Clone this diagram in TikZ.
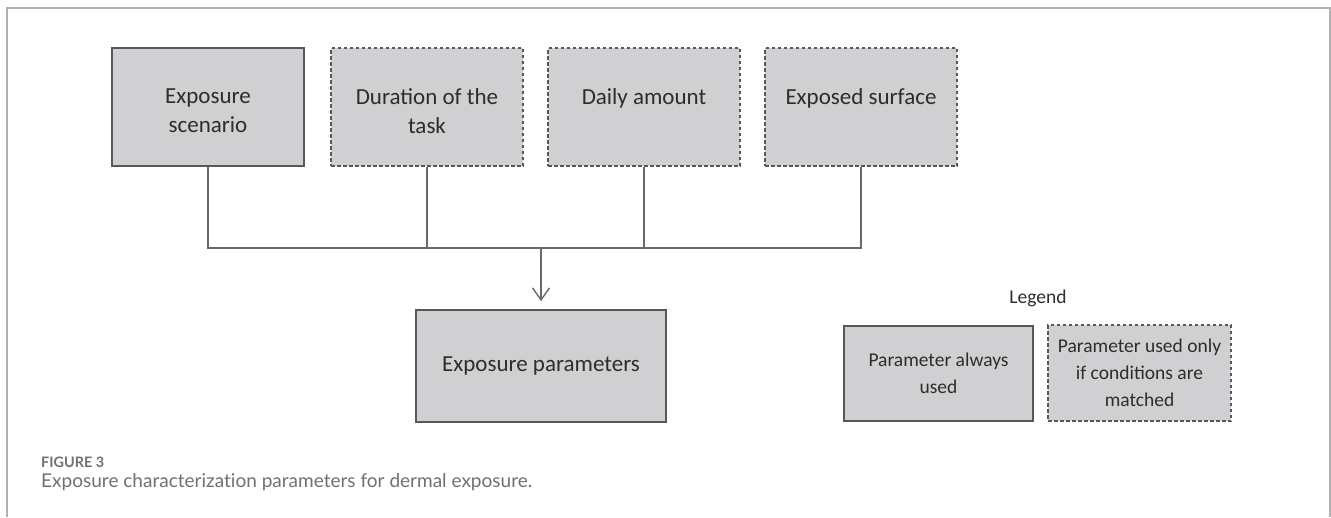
\documentclass[tikz,border=0pt]{standalone}
\usepackage{graphicx}
\usepackage{fontspec}
\setmainfont{Carlito}
\newfontfamily\capfont[Ligatures=NoCommon]{Lato}
\usetikzlibrary{arrows.meta}

\definecolor{boxfill}{RGB}{208,207,210}
\definecolor{boxline}{RGB}{88,88,90}
\definecolor{linkgray}{RGB}{105,105,105}
\definecolor{txtgray}{RGB}{45,45,45}
\definecolor{capgray}{RGB}{112,112,112}
\definecolor{framegray}{RGB}{178,178,178}

% top-aligned text inside the upper boxes
\newcommand{\toptext}[1]{\parbox[c][36pt][t]{184pt}{\centering #1}}

\tikzset{
  always/.style={draw=boxline, line width=1.8pt, fill=boxfill, inner sep=0pt,
    text=txtgray, align=center, font=\fontsize{23}{29}\selectfont},
  optional/.style={always, line width=1.5pt, dash pattern=on 3.5pt off 2.5pt},
  topbox/.style={minimum width=192pt, minimum height=118pt},
  legbox/.style={font=\fontsize{19.5}{27}\selectfont},
  link/.style={draw=linkgray, line width=1.4pt},
  caption/.style={anchor=base west, inner sep=0pt, text=capgray},
}

\begin{document}
\begin{tikzpicture}[x=1pt, y=1pt]
\useasboundingbox (0,0) rectangle (1331,-517);

% frame
\draw[framegray, line width=1.5pt] (7,-517) -- (7,-8) -- (1330,-8) -- (1330,-517);

% parameters
\node[always, topbox] (scen) at (208,-107) {\toptext{Exposure\\scenario}};
\node[optional, topbox] (dur) at (427,-107) {\toptext{Duration of the\\task}};
\node[optional, topbox] (daily) at (644,-107) {\toptext{Daily amount}};
\node[optional, topbox] (surf) at (861,-107) {\toptext{Exposed surface}};

\node[always, minimum width=250pt, minimum height=112pt] (params) at (541,-366) {Exposure parameters};

% links
\coordinate (joint) at (541,-248);
\draw[link] (scen.south) -- (scen.south |- joint) -- (surf.south |- joint) -- (surf.south);
\draw[link] (dur.south) -- (dur.south |- joint);
\draw[link] (daily.south) -- (daily.south |- joint);
\draw[link, -{Straight Barb[length=12pt, width=17pt, line width=1.4pt]}, shorten >=8pt] (joint) -- (params.north);

% legend
\node[text=txtgray, font=\fontsize{19.5}{23}\selectfont] (legend) at (1038,-298) {Legend};
\node[always, legbox, minimum width=189pt, minimum height=95pt] (legA) at (938.5,-373.5) {Parameter always\\used};
\node[optional, legbox, minimum width=183pt, minimum height=96pt] (legB) at (1139.5,-373) {Parameter used only\\if conditions are\\matched};

% caption
\node[caption] (fignum) at (41,-467) {\resizebox{63pt}{!}{\capfont\bfseries\fontsize{14.8}{17}\selectfont FIGURE 3}};
\node[caption] (figcap) at (41,-487) {\resizebox{491pt}{!}{\capfont\fontsize{18}{21}\selectfont Exposure characterization parameters for dermal exposure.}};
\end{tikzpicture}
\end{document}
